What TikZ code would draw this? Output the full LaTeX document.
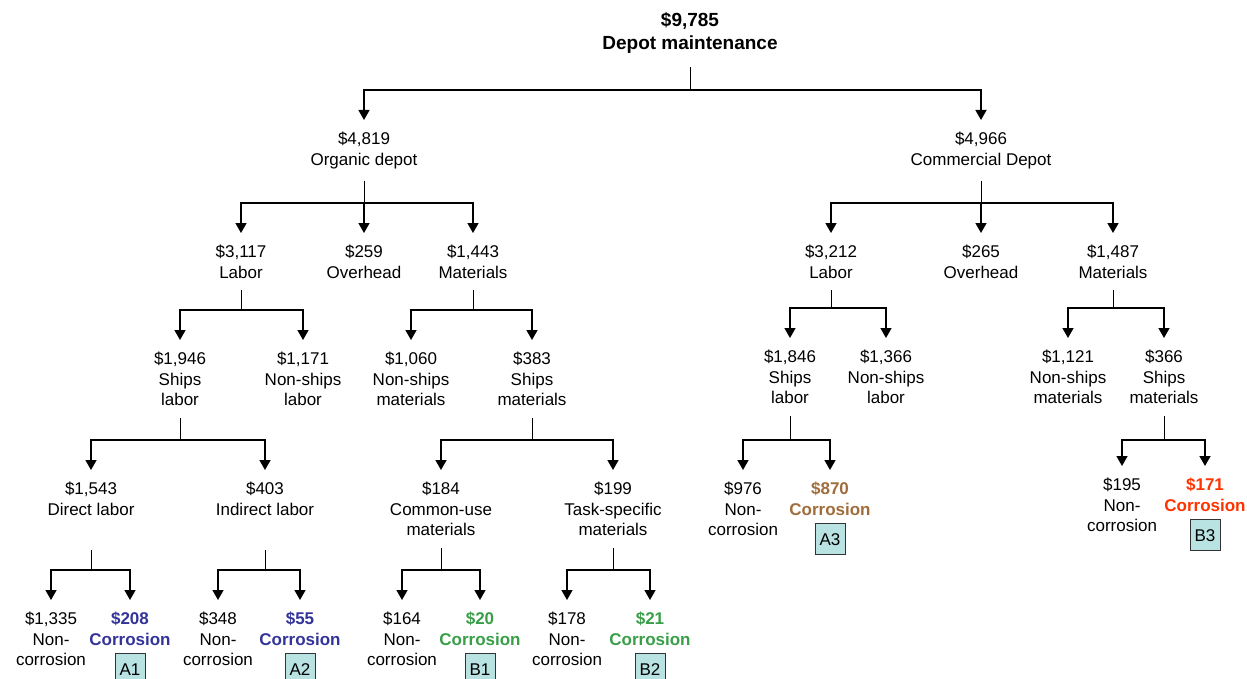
\documentclass[tikz,border=0pt]{standalone}
\usepackage{fontspec}
\setmainfont{Liberation Sans}
\usetikzlibrary{arrows.meta}

\definecolor{corrblue}{RGB}{51,51,153}
\definecolor{corrgreen}{RGB}{56,158,72}
\definecolor{corrbrown}{RGB}{160,108,58}
\definecolor{corrred}{RGB}{255,51,0}
\definecolor{tagfill}{RGB}{185,226,226}

\tikzset{
  item/.style={anchor=north, align=center, inner sep=0pt, outer ysep=12pt,
               font=\fontsize{17}{20.5}\selectfont},
  topitem/.style={anchor=north, align=center, inner sep=0pt, outer ysep=14pt,
               font=\fontsize{19}{23}\selectfont\bfseries},
  corr/.style={item, font=\fontsize{17}{20.5}\selectfont\bfseries},
  tag/.style={draw=black!80, line width=0.9pt, fill=tagfill, inner sep=0pt,
              minimum width=30pt, minimum height=31pt, anchor=north,
              font=\fontsize{17}{20}\selectfont},
  stem/.style={line width=1pt},
  arr/.style={line width=1.5pt, -{Triangle[width=11pt,length=10pt]}}
}

% stem from a parent to its junction, then one arrow per child
\newcommand\branch[3]{%
  \draw[stem] (#1) -- (#2);
  \foreach \c in {#3} {\draw[arr] (#2) -| (\c.north);}%
}

\begin{document}
\begin{tikzpicture}[x=1pt, y=-1pt]
\useasboundingbox (0,0) rectangle (1247,679);

% levels of the horizontal bars
\coordinate (bar0) at (0,90);
\coordinate (bar1) at (0,203);
\coordinate (bar2l) at (0,310);
\coordinate (bar2r) at (0,308);
\coordinate (bar3) at (0,440);
\coordinate (bar4) at (0,570);
\coordinate (top4) at (0,550);

% root
\node[topitem] (root) at (690,-2) {\$9,785\\Depot maintenance};

% depot type
\node[item] (org) at (364,120) {\$4,819\\Organic depot};
\node[item] (com) at (981,120) {\$4,966\\Commercial Depot};

% cost categories
\node[item] (olab) at (241,233) {\$3,117\\Labor};
\node[item] (oovh) at (364,233) {\$259\\Overhead};
\node[item] (omat) at (473,233) {\$1,443\\Materials};
\node[item] (clab) at (831,233) {\$3,212\\Labor};
\node[item] (covh) at (981,233) {\$265\\Overhead};
\node[item] (cmat) at (1113,233) {\$1,487\\Materials};

% ships / non-ships
\node[item] (oslab) at (180,340) {\$1,946\\Ships\\labor};
\node[item] (onslab) at (303,340) {\$1,171\\Non-ships\\labor};
\node[item] (onsmat) at (411,340) {\$1,060\\Non-ships\\materials};
\node[item] (osmat) at (532,340) {\$383\\Ships\\materials};
\node[item] (cslab) at (790,338) {\$1,846\\Ships\\labor};
\node[item] (cnslab) at (886,338) {\$1,366\\Non-ships\\labor};
\node[item] (cnsmat) at (1068,338) {\$1,121\\Non-ships\\materials};
\node[item] (csmat) at (1164,338) {\$366\\Ships\\materials};

% organic split further
\node[item] (dl) at (91,470) {\$1,543\\Direct labor};
\node[item] (il) at (265,470) {\$403\\Indirect labor};
\node[item] (cu) at (441,470) {\$184\\Common-use\\materials};
\node[item] (ts) at (613,470) {\$199\\Task-specific\\materials};

% commercial corrosion split
\node[item] (nc3) at (743,470) {\$976\\Non-\\corrosion};
\node[corr, text=corrbrown] (c3) at (830,470) {\$870\\Corrosion};
\node[item] (nc4) at (1122,466) {\$195\\Non-\\corrosion};
\node[corr, text=corrred] (c4) at (1205,466) {\$171\\Corrosion};

% organic corrosion split
\node[item] (nc1) at (51,600) {\$1,335\\Non-\\corrosion};
\node[corr, text=corrblue] (c1) at (130,600) {\$208\\Corrosion};
\node[item] (nc2) at (218,600) {\$348\\Non-\\corrosion};
\node[corr, text=corrblue] (c2) at (300,600) {\$55\\Corrosion};
\node[item] (nc5) at (402,600) {\$164\\Non-\\corrosion};
\node[corr, text=corrgreen] (c5) at (480,600) {\$20\\Corrosion};
\node[item] (nc6) at (567,600) {\$178\\Non-\\corrosion};
\node[corr, text=corrgreen] (c6) at (650,600) {\$21\\Corrosion};

% tags
\node[tag] (tA1) at ([yshift=4pt]c1.south) {A1};
\node[tag] (tA2) at ([yshift=4pt]c2.south) {A2};
\node[tag] (tB1) at ([yshift=4pt]c5.south) {B1};
\node[tag] (tB2) at ([yshift=4pt]c6.south) {B2};
\node[tag] (tA3) at ([yshift=4pt]c3.south) {A3};
\node[tag] (tB3) at ([yshift=4pt]c4.south) {B3};

% junctions
\coordinate (jroot) at (root.south |- bar0);
\coordinate (jorg) at (org.south |- bar1);
\coordinate (jcom) at (com.south |- bar1);
\coordinate (jolab) at (olab.south |- bar2l);
\coordinate (jomat) at (omat.south |- bar2l);
\coordinate (jclab) at (clab.south |- bar2r);
\coordinate (jcmat) at (cmat.south |- bar2r);
\coordinate (joslab) at (oslab.south |- bar3);
\coordinate (josmat) at (osmat.south |- bar3);
\coordinate (jcslab) at (cslab.south |- bar3);
\coordinate (jcsmat) at (csmat.south |- bar3);
\coordinate (jdl) at (dl.south |- bar4);
\coordinate (jil) at (il.south |- bar4);
\coordinate (jcu) at (cu.south |- bar4);
\coordinate (jts) at (ts.south |- bar4);

% connectors
\branch{root.south}{jroot}{org,com}
\branch{org.south}{jorg}{olab,oovh,omat}
\branch{com.south}{jcom}{clab,covh,cmat}
\branch{olab.south}{jolab}{oslab,onslab}
\branch{omat.south}{jomat}{onsmat,osmat}
\branch{clab.south}{jclab}{cslab,cnslab}
\branch{cmat.south}{jcmat}{cnsmat,csmat}
\branch{oslab.south}{joslab}{dl,il}
\branch{osmat.south}{josmat}{cu,ts}
\branch{cslab.south}{jcslab}{nc3,c3}
\branch{csmat.south}{jcsmat}{nc4,c4}
\branch{dl.south |- top4}{jdl}{nc1,c1}
\branch{il.south |- top4}{jil}{nc2,c2}
\branch{cu.south}{jcu}{nc5,c5}
\branch{ts.south}{jts}{nc6,c6}
\end{tikzpicture}
\end{document}
